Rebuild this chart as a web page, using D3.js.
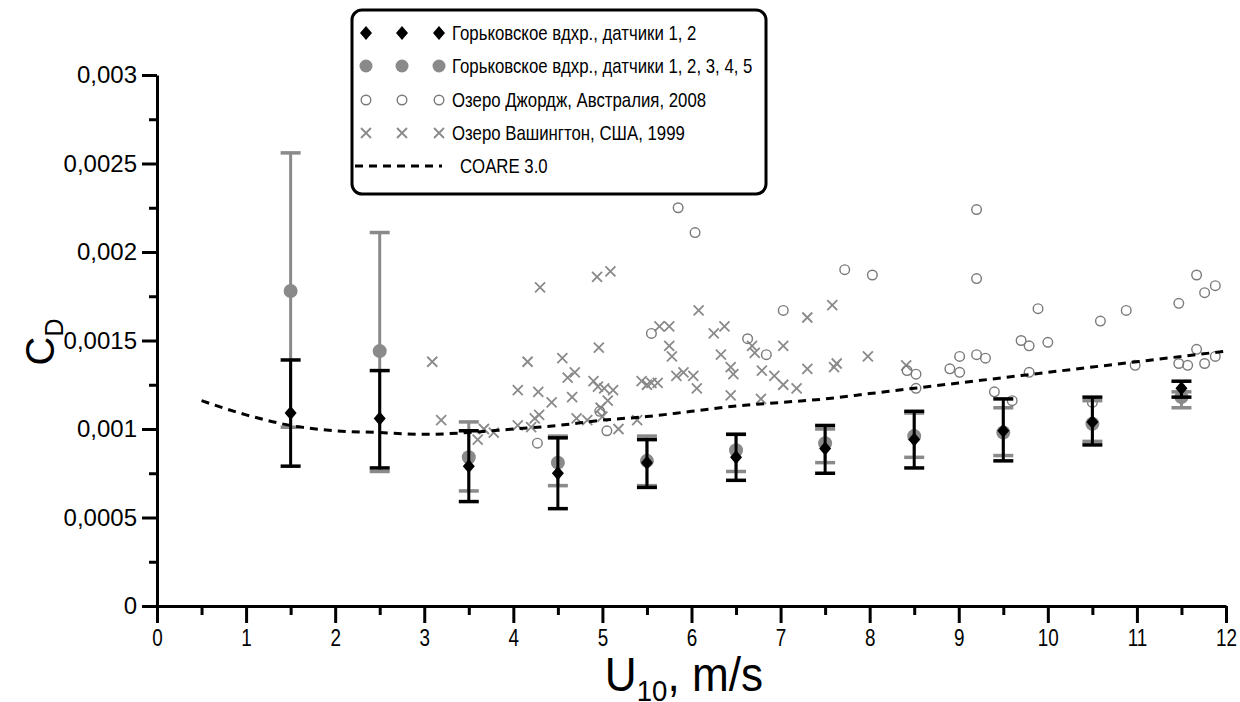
<!DOCTYPE html>
<html>
<head>
<meta charset="utf-8">
<script src="https://cdn.jsdelivr.net/npm/d3@7"></script>
<style>
  body { margin: 0; background: #fff; }
  svg { display: block; font-family: Arial, "Liberation Sans", sans-serif; }
</style>
</head>
<body>
<svg id="chart" width="1240" height="702"></svg>
<script>
// --- data ---
var windBins = [1.5, 2.5, 3.5, 4.5, 5.5, 6.5, 7.5, 8.5, 9.5, 10.5, 11.5];

// Горьковское вдхр., датчики 1, 2 (black diamonds)
var cd12 = [0.00109, 0.00106, 0.00079, 0.00075, 0.00081, 0.00084, 0.00089, 0.00094, 0.00099, 0.00104, 0.00123];
var cd12Lo = [0.00079, 0.00078, 0.00059, 0.00055, 0.00067, 0.00071, 0.00075, 0.00078, 0.00082, 0.00091, 0.00118];
var cd12Hi = [0.00139, 0.00133, 0.00099, 0.00095, 0.00094, 0.00097, 0.00102, 0.00110, 0.00117, 0.00118, 0.00127];

// Горьковское вдхр., датчики 1..5 (grey circles)
var cd15 = [0.00178, 0.00144, 0.00084, 0.00081, 0.00082, 0.00088, 0.00092, 0.00096, 0.00098, 0.00103, 0.00118];
var cd15Lo = [0.00101, 0.00076, 0.00065, 0.00068, 0.00068, 0.00076, 0.00081, 0.00084, 0.00085, 0.00093, 0.00112];
var cd15Hi = [0.00256, 0.00211, 0.00104, 0.00096, 0.00096, 0.00097, 0.00100, 0.00109, 0.00112, 0.00116, 0.00121];

// Озеро Джордж, Австралия, 2008
var georgeU = [4.27, 4.97, 5.05, 5.55, 5.85, 6.04, 6.63, 6.84, 7.03, 7.72, 8.03, 8.42, 8.52, 8.52, 8.9, 9.01, 9.01,
  9.2, 9.2, 9.2, 9.3, 9.4, 9.6, 9.7, 9.79, 9.79, 9.89, 10.0, 10.5, 10.59, 10.88, 10.98, 11.47, 11.47, 11.57,
  11.67, 11.67, 11.76, 11.76, 11.88, 11.88];
var georgeCd = [0.00092, 0.00110, 0.00099, 0.00154, 0.00225, 0.00211, 0.00151, 0.00142, 0.00167, 0.00190, 0.00187,
  0.00133, 0.00131, 0.00123, 0.00134, 0.00141, 0.00132, 0.00224, 0.00185, 0.00142, 0.00140, 0.00121, 0.00116,
  0.00150, 0.00147, 0.00132, 0.00168, 0.00149, 0.00115, 0.00161, 0.00167, 0.00136, 0.00171, 0.00137, 0.00136,
  0.00187, 0.00145, 0.00177, 0.00137, 0.00181, 0.00141];

// Озеро Вашингтон, США, 1999
var washU = [3.09, 3.19, 3.6, 3.67, 3.78, 4.05, 4.05, 4.16, 4.2, 4.24, 4.28, 4.29, 4.3, 4.43, 4.55, 4.61, 4.66,
  4.69, 4.71, 4.83, 4.9, 4.94, 4.95, 4.96, 4.98, 5.0, 5.02, 5.06, 5.09, 5.12, 5.18, 5.39, 5.44, 5.5, 5.55, 5.62,
  5.64, 5.75, 5.75, 5.78, 5.83, 5.91, 6.02, 6.06, 6.08, 6.25, 6.33, 6.37, 6.44, 6.44, 6.47, 6.68, 6.71, 6.78,
  6.79, 6.93, 7.03, 7.03, 7.18, 7.3, 7.3, 7.58, 7.6, 7.63, 7.98, 8.41];
var washCd = [0.00138, 0.00105, 0.00094, 0.00100, 0.00098, 0.00122, 0.00102, 0.00138, 0.00101, 0.00106, 0.00121,
  0.00108, 0.00180, 0.00115, 0.00140, 0.00129, 0.00118, 0.00132, 0.00106, 0.00105, 0.00127, 0.00186, 0.00124,
  0.00146, 0.00112, 0.00107, 0.00123, 0.00116, 0.00189, 0.00122, 0.00100, 0.00105, 0.00127, 0.00125, 0.00126,
  0.00126, 0.00158, 0.00158, 0.00147, 0.00141, 0.00130, 0.00132, 0.00130, 0.00123, 0.00167, 0.00154, 0.00142,
  0.00158, 0.00135, 0.00119, 0.00131, 0.00147, 0.00143, 0.00117, 0.00133, 0.00130, 0.00125, 0.00147, 0.00123,
  0.00163, 0.00134, 0.00170, 0.00135, 0.00137, 0.00141, 0.00136];

// COARE 3.0
var coareU = [0.5, 1, 1.5, 2, 2.5, 3, 3.5, 4, 4.5, 5, 5.5, 6, 6.5, 7, 7.5, 8, 8.5, 9, 9.5, 10, 10.5, 11, 11.5, 12];
var coareCd = [0.00116, 0.00108, 0.00102, 0.00099, 0.00098, 0.00097, 0.00098, 0.00100, 0.00102, 0.00105, 0.00107,
  0.00110, 0.00113, 0.00115, 0.00117, 0.00120, 0.00123, 0.00126, 0.00129, 0.00132, 0.00135, 0.00138, 0.00141, 0.00144];

var xTicks = d3.range(0, 13, 1);
var yTicks = [0, 0.0005, 0.001, 0.0015, 0.002, 0.0025, 0.003];

var legendLabels = [
  "Горьковское вдхр., датчики 1, 2",
  "Горьковское вдхр., датчики 1, 2, 3, 4, 5",
  "Озеро Джордж, Австралия, 2008",
  "Озеро Вашингтон, США, 1999",
  "COARE 3.0"
];

var GREY = "#8a8a8a";
var FONT = "Arial, 'Liberation Sans', sans-serif";

var svg = d3.select("#chart");
var x = d3.scaleLinear().domain([0, 12]).range([157, 1226]);
var y = d3.scaleLinear().domain([0, 0.003]).range([606, 75]);

function fmtComma(d) {
  return d === 0 ? "0" : String(+d.toFixed(4)).replace(".", ",");
}

var diamondPath = "M0,-7L6,0L0,7L-6,0Z";
var crossPath = "M-5,-5L5,5M-5,5L5,-5";

// --- axes ---
var yMinor = svg.append("g")
  .attr("transform", "translate(157,0)")
  .call(d3.axisLeft(y).tickValues(d3.range(0.00025, 0.003, 0.0005)).tickSize(8).tickFormat(""));
yMinor.select(".domain").remove();

var yAxis = svg.append("g")
  .attr("transform", "translate(157,0)")
  .call(d3.axisLeft(y).tickValues(yTicks).tickSize(15).tickPadding(5).tickFormat(fmtComma).tickSizeOuter(0));

var xMinor = svg.append("g")
  .attr("transform", "translate(0,606)")
  .call(d3.axisBottom(x).tickValues(d3.range(0.5, 12, 1)).tickSize(9).tickFormat(""));
xMinor.select(".domain").remove();

var xAxis = svg.append("g")
  .attr("transform", "translate(0,606)")
  .call(d3.axisBottom(x).tickValues(xTicks).tickSize(17).tickPadding(7).tickFormat(d3.format("d")).tickSizeOuter(0));

svg.selectAll(".tick line, .domain").attr("stroke", "#000").attr("stroke-width", 3);
yAxis.selectAll("text").attr("font-size", 24).attr("fill", "#000").attr("font-family", FONT);
xAxis.selectAll("text").attr("font-size", 23).attr("fill", "#000").attr("font-family", FONT)
  .attr("transform", "scale(0.82,1)");

// axis titles
var yTitle = svg.append("text")
  .attr("transform", "translate(54,342) rotate(-90)")
  .attr("text-anchor", "middle")
  .attr("font-size", 40);
yTitle.append("tspan").text("C");
yTitle.append("tspan").attr("font-size", 25).attr("dy", 9).text("D");

var xTitle = svg.append("text")
  .attr("transform", "translate(684,691) scale(0.92,1)")
  .attr("text-anchor", "middle")
  .attr("font-size", 48);
xTitle.append("tspan").text("U");
xTitle.append("tspan").attr("font-size", 30).attr("dy", 10).text("10");
xTitle.append("tspan").attr("dy", -10).text(", m/s");

// --- scatter: Lake Washington crosses ---
svg.append("g").selectAll("path")
  .data(d3.zip(washU, washCd))
  .enter().append("path")
  .attr("d", crossPath)
  .attr("transform", function(d) { return "translate(" + x(d[0]) + "," + y(d[1]) + ")"; })
  .attr("fill", "none")
  .attr("stroke", GREY)
  .attr("stroke-width", 1.8);

// --- scatter: Lake George open circles ---
svg.append("g").selectAll("circle")
  .data(d3.zip(georgeU, georgeCd))
  .enter().append("circle")
  .attr("cx", function(d) { return x(d[0]); })
  .attr("cy", function(d) { return y(d[1]); })
  .attr("r", 4.8)
  .attr("fill", "none")
  .attr("stroke", "#7a7a7a")
  .attr("stroke-width", 1.4);

// --- error bar helper ---
function drawBars(mean, lo, hi, color, marker) {
  var rows = windBins.map(function(u, i) { return { u: u, m: mean[i], lo: lo[i], hi: hi[i] }; });
  var g = svg.append("g");
  var bar = g.selectAll("g").data(rows).enter().append("g");
  bar.append("line")
    .attr("x1", function(d) { return x(d.u); }).attr("x2", function(d) { return x(d.u); })
    .attr("y1", function(d) { return y(d.lo); }).attr("y2", function(d) { return y(d.hi); })
    .attr("stroke", color).attr("stroke-width", 3);
  ["lo", "hi"].forEach(function(k) {
    bar.append("line")
      .attr("x1", function(d) { return x(d.u) - 10; }).attr("x2", function(d) { return x(d.u) + 10; })
      .attr("y1", function(d) { return y(d[k]); }).attr("y2", function(d) { return y(d[k]); })
      .attr("stroke", color).attr("stroke-width", 3.5);
  });
  if (marker === "circle") {
    bar.append("circle")
      .attr("cx", function(d) { return x(d.u); })
      .attr("cy", function(d) { return y(d.m); })
      .attr("r", 7).attr("fill", color);
  } else {
    bar.append("path")
      .attr("d", diamondPath)
      .attr("transform", function(d) { return "translate(" + x(d.u) + "," + y(d.m) + ")"; })
      .attr("fill", color);
  }
}

drawBars(cd15, cd15Lo, cd15Hi, GREY, "circle");
drawBars(cd12, cd12Lo, cd12Hi, "#000", "diamond");

// --- COARE 3.0 ---
var line = d3.line()
  .x(function(d) { return x(d[0]); })
  .y(function(d) { return y(d[1]); })
  .curve(d3.curveMonotoneX);

svg.append("path")
  .datum(d3.zip(coareU, coareCd))
  .attr("d", line)
  .attr("fill", "none")
  .attr("stroke", "#000")
  .attr("stroke-width", 3)
  .attr("stroke-dasharray", "8,6");

// --- legend ---
var lg = svg.append("g");
lg.append("rect")
  .attr("x", 352).attr("y", 10).attr("width", 414).attr("height", 184)
  .attr("rx", 10).attr("ry", 10)
  .attr("fill", "#fff").attr("stroke", "#000").attr("stroke-width", 3);

var rowY = [33, 66, 100, 133, 166];
var symX = [366, 402, 439];

legendLabels.forEach(function(label, i) {
  var yy = rowY[i];
  if (i < 4) {
    symX.forEach(function(sx) {
      if (i === 0) {
        lg.append("path").attr("d", diamondPath).attr("transform", "translate(" + sx + "," + yy + ")").attr("fill", "#000");
      } else if (i === 1) {
        lg.append("circle").attr("cx", sx).attr("cy", yy).attr("r", 6.5).attr("fill", GREY);
      } else if (i === 2) {
        lg.append("circle").attr("cx", sx).attr("cy", yy).attr("r", 4.8)
          .attr("fill", "none").attr("stroke", "#7a7a7a").attr("stroke-width", 1.4);
      } else {
        lg.append("path").attr("d", crossPath).attr("transform", "translate(" + sx + "," + yy + ")")
          .attr("fill", "none").attr("stroke", GREY).attr("stroke-width", 1.8);
      }
    });
  } else {
    lg.append("line").attr("x1", 355).attr("x2", 442).attr("y1", yy).attr("y2", yy)
      .attr("stroke", "#000").attr("stroke-width", 3).attr("stroke-dasharray", "8,6");
  }
  lg.append("text")
    .attr("transform", "translate(" + (i < 4 ? 452 : 460) + "," + (yy + 7) + ") scale(0.84,1)")
    .attr("font-size", 20)
    .text(label);
});
</script>
</body>
</html>
